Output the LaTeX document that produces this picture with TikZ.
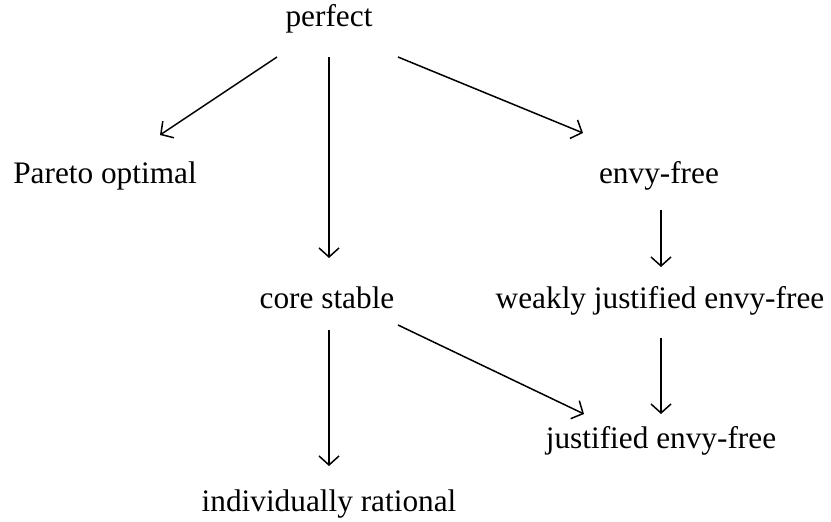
\documentclass[tikz,border=0pt]{standalone}
\usepackage{fontspec}
\setmainfont{Liberation Serif}
\usetikzlibrary{arrows.meta,calc}
\tikzset{
  lbl/.style={anchor=base,inner sep=0pt,font=\fontsize{31.3}{36}\selectfont},
  arr/.style={-{Straight Barb[length=9pt,width=20pt,line width=1.5pt]},line width=1.5pt}
}
\begin{document}
\begin{tikzpicture}[x=1pt,y=-1pt]
\useasboundingbox (0,0) rectangle (831,522);
\node[lbl] (perfect) at (329,27) {perfect};
\node[lbl] (pareto) at (105,183) {Pareto optimal};
\node[lbl] (envy) at (659,183) {envy-free};
\node[lbl] (core) at (327,308) {core stable};
\node[lbl] (weakly) at (660,308) {weakly justified envy-free};
\node[lbl] (just) at (661,448) {justified envy-free};
\node[lbl] (indiv) at (329,511) {individually rational};
\draw[arr] ($(perfect.base)+(-52,30)$) -- ($(pareto.base)+(55,-48)$);
\draw[arr] ($(perfect.base)+(0,30)$) -- ($(core.base)+(2,-50)$);
\draw[arr] ($(perfect.base)+(69,30)$) -- ($(envy.base)+(-76,-50)$);
\draw[arr] ($(envy.base)+(2,27)$) -- ($(weakly.base)+(1,-41)$);
\draw[arr] ($(core.base)+(2,22)$) -- ($(indiv.base)+(0,-45)$);
\draw[arr] ($(core.base)+(71,17)$) -- ($(just.base)+(-77,-34)$);
\draw[arr] ($(weakly.base)+(1,30)$) -- ($(just.base)+(0,-34)$);
\end{tikzpicture}
\end{document}
